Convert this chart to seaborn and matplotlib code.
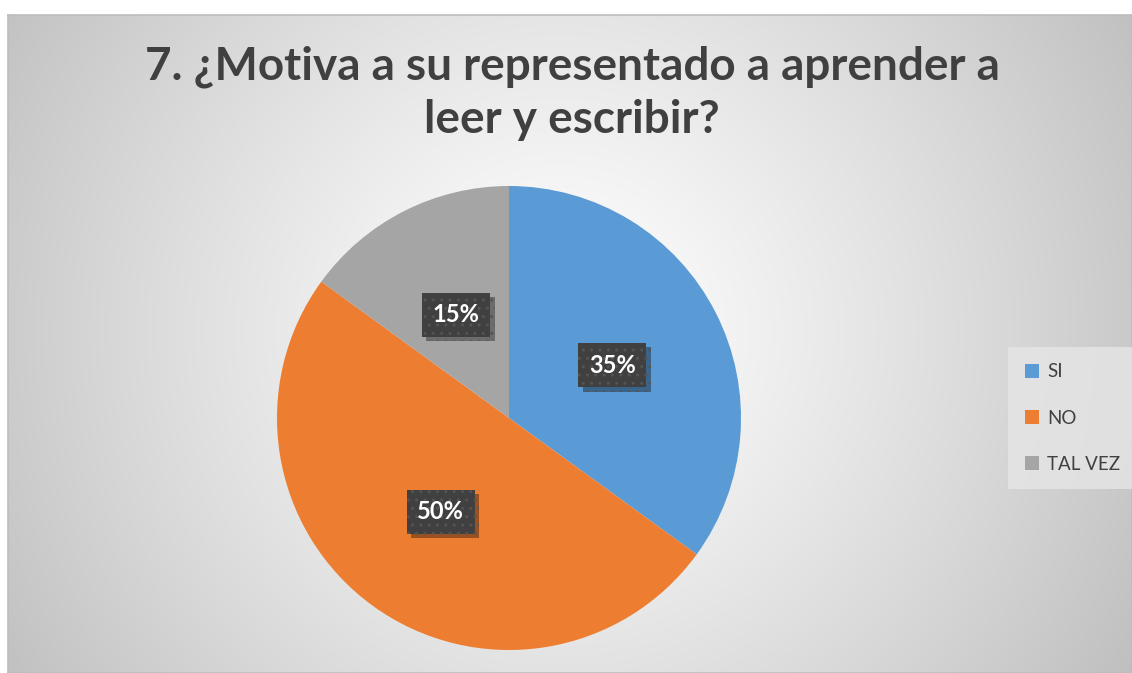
import matplotlib
matplotlib.use("Agg")
import matplotlib.pyplot as plt
import matplotlib.patheffects as pe
from matplotlib.patches import Patch
import numpy as np
import seaborn as sns

title = "7. ¿Motiva a su representado a aprender a\nleer y escribir?"
categorias = ["SI", "NO", "TAL VEZ"]
valores = [35, 50, 15]
colores = ["#5B9BD5", "#ED7D31", "#A5A5A5"]

sns.set_theme(style="white")
plt.rcParams['font.family'] = ['Lato', 'DejaVu Sans']
plt.rcParams['hatch.linewidth'] = 1.0

W, H = 1132, 673
fig = plt.figure(figsize=(W / 100, H / 100), dpi=100)
fig.patch.set_facecolor("white")

# fondo con degradado radial
bx0, by0 = 8, 15
bg = fig.add_axes([bx0 / W, 0, (W - bx0) / W, (H - by0) / H])
yy, xx = np.mgrid[by0:H, bx0:W]
r = np.hypot(xx - 560, yy - 330)
r = r / r.max()
g = 1.0 - 0.25 * r ** 1.2
bg.imshow(np.dstack([g, g, g]), aspect="auto", extent=[0, 1, 0, 1], origin="upper")
bg.set_xticks([])
bg.set_yticks([])
for s in bg.spines.values():
    s.set_color("#bdbdbd")
    s.set_linewidth(1.2)

# pastel
cx, cy, rad = 509, 418, 232
ax = fig.add_axes([(cx - rad) / W, (H - cy - rad) / H, 2 * rad / W, 2 * rad / H])
ax.set_facecolor("none")
wedges, texts, autotexts = ax.pie(valores, colors=colores, startangle=90, counterclock=False,
                                  autopct="%1.0f%%", pctdistance=0.5, radius=1.0,
                                  wedgeprops=dict(linewidth=0, edgecolor="none"),
                                  textprops=dict(color="white", fontsize=17, fontweight="bold"))
ax.set_xlim(-1, 1)
ax.set_ylim(-1, 1)
for t in autotexts:
    t.set_bbox(dict(boxstyle="square,pad=0.45", facecolor="#404040", edgecolor="#545454",
                    hatch="..", linewidth=0))
    t.get_bbox_patch().set_path_effects([
        pe.SimplePatchShadow(offset=(3, -3), shadow_rgbFace="black", alpha=0.35),
        pe.Normal()])

fig.text(572 / W, 1 - 46 / H, title, ha="center", va="top", fontsize=33, fontweight="bold",
         color="#404040", linespacing=1.32)

handles = [Patch(facecolor=c, edgecolor="none") for c in colores]
leg = fig.legend(handles, categorias, loc="center left", bbox_to_anchor=(1008 / W, 1 - 418 / H),
                 frameon=True, fontsize=13.5, handlelength=0.75, handleheight=0.75,
                 handletextpad=0.45, labelspacing=1.55, borderpad=0.9, borderaxespad=0,
                 fancybox=False)
leg.get_frame().set_facecolor("#e6e6e6")
leg.get_frame().set_edgecolor("none")
for t in leg.get_texts():
    t.set_color("#404040")

fig.savefig("out.png", dpi=100)
